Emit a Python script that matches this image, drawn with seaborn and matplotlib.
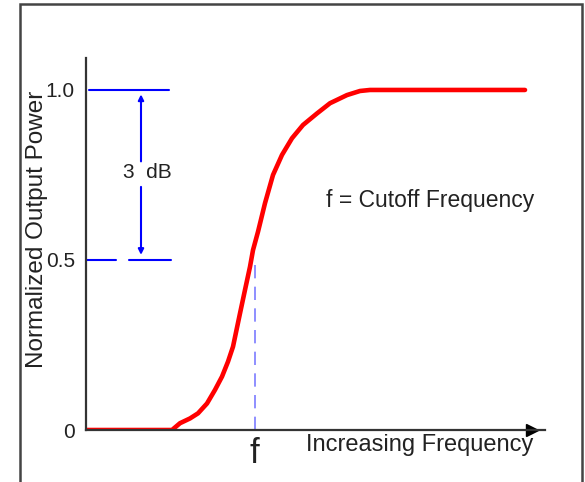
import matplotlib
matplotlib.use("Agg")
import matplotlib.pyplot as plt
import numpy as np
import pandas as pd
import seaborn as sns
from matplotlib.patches import Rectangle

# response curve (frequency in arbitrary units)
freq = [0, 8.6, 9.4, 10.4, 11.2, 12.1, 12.9, 13.6, 14.2, 14.7, 15.4, 15.9,
        16.4, 16.7, 17.2, 17.9, 18.7, 19.6, 20.6, 21.7, 23.1, 24.4, 26.1,
        27.4, 28.4, 43.9]
power = [0, 0, 0.020, 0.034, 0.049, 0.078, 0.118, 0.157, 0.201, 0.245,
         0.343, 0.412, 0.480, 0.529, 0.583, 0.667, 0.750, 0.809, 0.858,
         0.897, 0.931, 0.961, 0.985, 0.997, 1.0, 1.0]
cutoff = 16.9
y_ticks = [0, 0.5, 1.0]
y_tick_labels = ["0", "0.5", "1.0"]

df = pd.DataFrame({"freq": freq, "power": power})

sns.set_theme(style="white")
plt.rcParams["font.family"] = ["Liberation Sans", "DejaVu Sans"]

fig = plt.figure(figsize=(5.85, 4.82), dpi=100)
ax = fig.add_axes([86 / 585, 52 / 482, 459 / 585, 372 / 482])

sns.lineplot(data=df, x="freq", y="power", color="#ff0000", linewidth=3.3,
             ax=ax, sort=False)

ax.set_xlim(0, 45.9)
ax.set_ylim(0, 1.094)
ax.set_xticks([])
ax.set_yticks(y_ticks)
ax.set_yticklabels(y_tick_labels, fontsize=15, color="#222222")
ax.tick_params(axis="y", length=0, pad=8)
ax.set_xlabel("")
ax.set_ylabel("Normalized Output Power", fontsize=17.5, color="#222222",
              va="center")
ax.yaxis.set_label_coords(-0.107, 0.538)

for side in ["top", "right"]:
    ax.spines[side].set_visible(False)
for side in ["left", "bottom"]:
    ax.spines[side].set_color("#333333")
    ax.spines[side].set_linewidth(1.6)

# x axis arrowhead
ax.plot(44.6, 0, marker=">", color="black", markersize=8, clip_on=False)

# 3 dB bracket
blue = "#0000ff"
ax.plot([0.3, 8.3], [1.0, 1.0], color=blue, lw=1.5, clip_on=False)
ax.plot([0, 3.0], [0.5, 0.5], color=blue, lw=1.5, clip_on=False)
ax.plot([4.3, 8.5], [0.5, 0.5], color=blue, lw=1.5, clip_on=False)
ax.annotate("", xy=(5.5, 0.987), xytext=(5.5, 0.79),
            arrowprops=dict(arrowstyle="-|>", color=blue, lw=1.5,
                            mutation_scale=8, shrinkA=0, shrinkB=0))
ax.annotate("", xy=(5.5, 0.515), xytext=(5.5, 0.715),
            arrowprops=dict(arrowstyle="-|>", color=blue, lw=1.5,
                            mutation_scale=8, shrinkA=0, shrinkB=0))
ax.text(6.1, 0.757, "3  dB", fontsize=15, ha="center", va="center",
        color="#222222")

# cutoff marker
ax.plot([cutoff, cutoff], [0, 0.5], color="#7b7bff", lw=1.2,
        dashes=(8, 5))
ax.text(cutoff - 0.1, -0.07, "f", fontsize=25, ha="center", va="center",
        color="#222222", clip_on=False)

ax.text(34.4, 0.676, "f = Cutoff Frequency", fontsize=16.5, ha="center",
        va="center", color="#222222")
ax.text(33.4, -0.045, "Increasing Frequency", fontsize=17, ha="center",
        va="center", color="#222222", clip_on=False)

# outer frame
fig.patches.append(Rectangle((20 / 585, -0.05), 562 / 585, 1.05 - 4 / 482,
                             transform=fig.transFigure, fill=False,
                             edgecolor="#444444", linewidth=1.8))

fig.savefig("out.png", dpi=100)
